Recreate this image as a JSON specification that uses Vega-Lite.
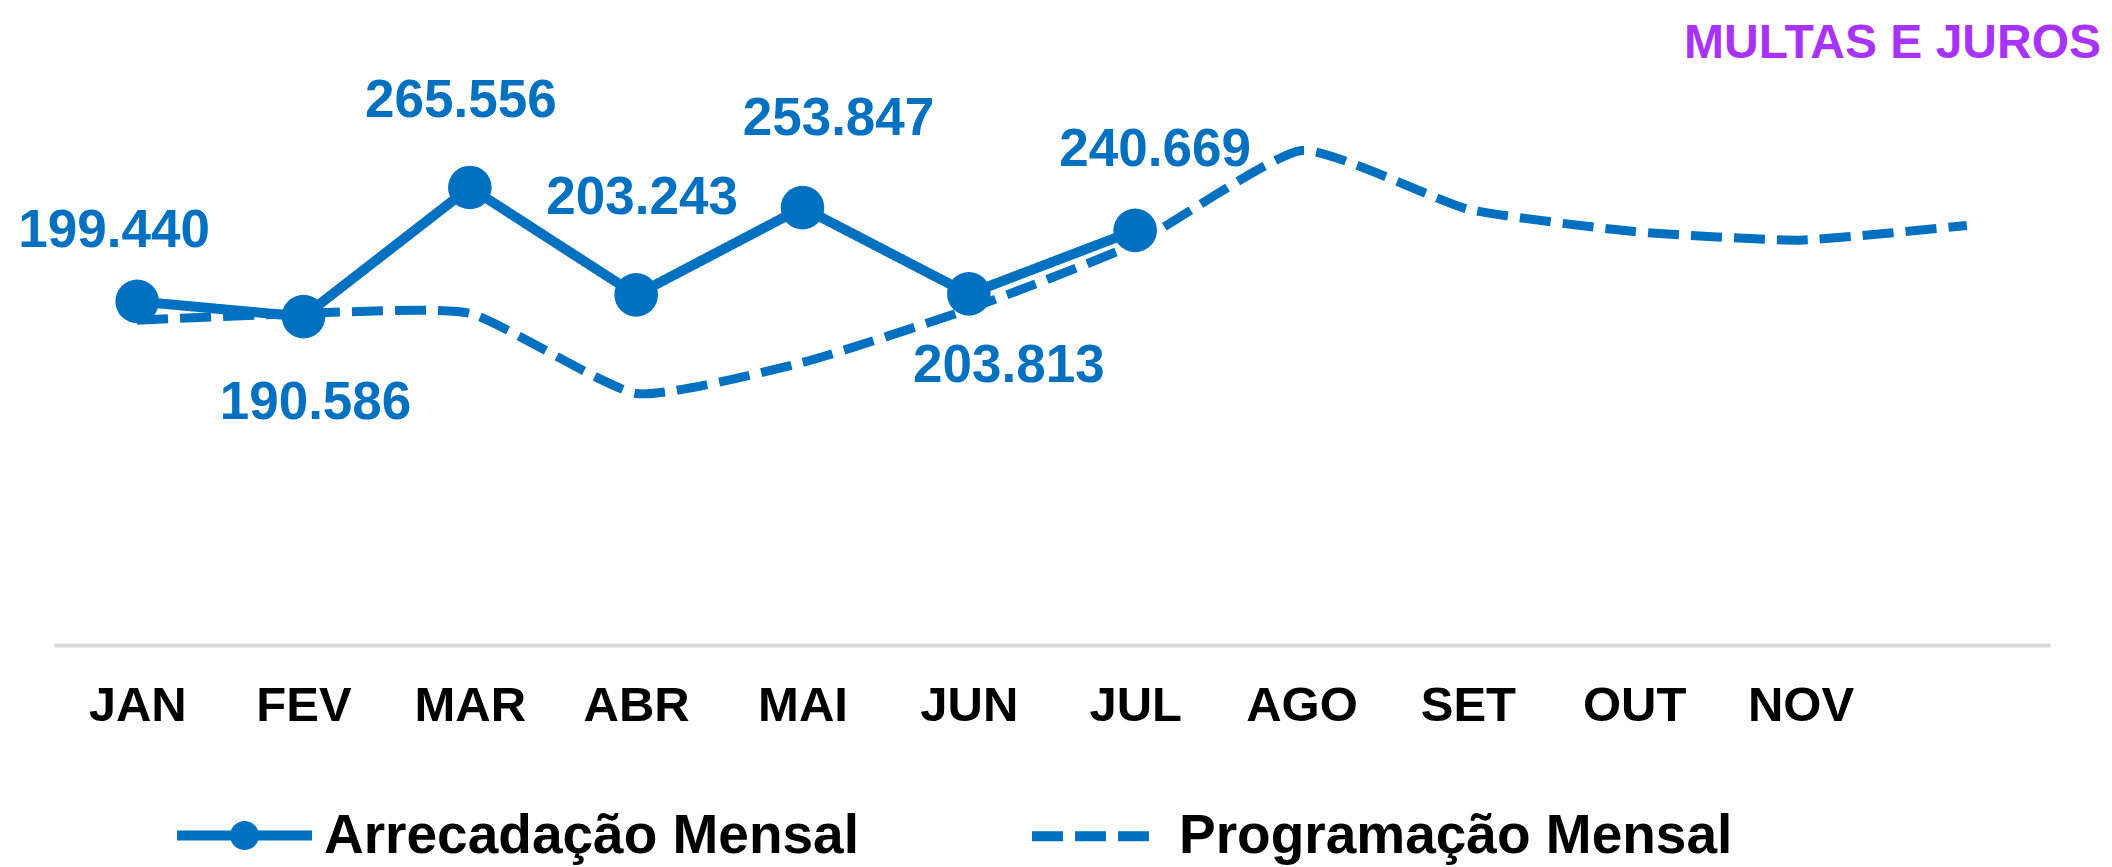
{
  "$schema": "https://vega.github.io/schema/vega-lite/v6.json",
  "width": 1996,
  "height": 603,
  "autosize": {"type": "none"},
  "padding": {"left": 54, "top": 42, "right": 62, "bottom": 222},
  "background": "white",
  "config": {
    "view": {"stroke": null},
    "locale": {"number": {"decimal": ",", "thousands": ".", "grouping": [3], "currency": ["R$", ""]}},
    "font": "Liberation Sans"
  },
  "title": {
    "text": "MULTAS E JUROS",
    "anchor": "end",
    "frame": "group",
    "font": "Liberation Sans",
    "fontSize": 48,
    "fontWeight": "bold",
    "color": "#A833FF",
    "baseline": "alphabetic",
    "offset": 0,
    "dx": 51,
    "dy": 64
  },
  "data": {
    "values": [
      {"mes": "JAN", "arrecadacao": 199440, "programacao": 188500},
      {"mes": "FEV", "arrecadacao": 190586, "programacao": 192500},
      {"mes": "MAR", "arrecadacao": 265556, "programacao": 192500},
      {"mes": "ABR", "arrecadacao": 203243, "programacao": 146000},
      {"mes": "MAI", "arrecadacao": 253847, "programacao": 164000},
      {"mes": "JUN", "arrecadacao": 203813, "programacao": 195000},
      {"mes": "JUL", "arrecadacao": 240669, "programacao": 233000},
      {"mes": "AGO", "arrecadacao": null, "programacao": 287000},
      {"mes": "SET", "arrecadacao": null, "programacao": 253000},
      {"mes": "OUT", "arrecadacao": null, "programacao": 240000},
      {"mes": "NOV", "arrecadacao": null, "programacao": 235000},
      {"mes": "DEZ", "arrecadacao": null, "programacao": 243500}
    ]
  },
  "transform": [
    {"fold": ["arrecadacao", "programacao"], "as": ["chave", "valor"]},
    {"calculate": "datum.chave == 'arrecadacao' ? 'Arrecadação Mensal' : 'Programação Mensal'", "as": "serie"},
    {"filter": "isValid(datum.valor)"}
  ],
  "encoding": {
    "x": {
      "field": "mes",
      "type": "nominal",
      "sort": ["JAN", "FEV", "MAR", "ABR", "MAI", "JUN", "JUL", "AGO", "SET", "OUT", "NOV", "DEZ"],
      "scale": {"type": "point", "padding": 0.5},
      "axis": {
        "title": null,
        "labelAngle": 0,
        "labelExpr": "datum.value == 'DEZ' ? '' : datum.value",
        "ticks": false,
        "tickSize": 0,
        "grid": false,
        "domainColor": "#D9D9D9",
        "domainWidth": 4,
        "labelFont": "Liberation Sans",
        "labelFontSize": 49,
        "labelFontWeight": "bold",
        "labelColor": "#000000",
        "labelBaseline": "middle",
        "labelPadding": 60
      }
    },
    "y": {
      "field": "valor",
      "type": "quantitative",
      "scale": {"domain": [0, 350000], "zero": true, "nice": false},
      "axis": null
    }
  },
  "layer": [
    {
      "transform": [{"filter": "datum.serie == 'Programação Mensal'"}],
      "mark": {"type": "line", "interpolate": "cardinal", "tension": 0.5, "strokeWidth": 9, "color": "#0070C0"},
      "encoding": {
        "strokeDash": {
          "field": "serie",
          "type": "nominal",
          "scale": {"domain": ["Arrecadação Mensal", "Programação Mensal"], "range": [[1, 0], [31, 12]]},
          "legend": {
            "title": null,
            "orient": "none",
            "legendX": 118,
            "legendY": 721,
            "direction": "horizontal",
            "padding": 0,
            "symbolSize": 18225,
            "symbolStrokeWidth": 10,
            "symbolStrokeColor": "#0070C0",
            "symbolFillColor": "transparent",
            "labelFont": "Liberation Sans",
            "labelFontSize": 55,
            "labelFontWeight": "bold",
            "labelColor": "#000000",
            "labelOffset": 7,
            "labelLimit": 0,
            "columnPadding": 153,
            "encode": {
              "symbols": {
                "update": {
                  "shape": {"signal": "datum.value == 'Arrecadação Mensal' ? 'M-1,0L1,0M-0.14,0A0.14,0.14 0 1,0 0.14,0A0.14,0.14 0 1,0 -0.14,0Z' : 'M-1,0L0.74,0'"}
                }
              }
            }
          }
        }
      }
    },
    {
      "transform": [{"filter": "datum.serie == 'Arrecadação Mensal'"}],
      "mark": {"type": "line", "strokeWidth": 10, "color": "#0070C0"},
      "encoding": {
        "strokeDash": {"field": "serie", "type": "nominal"}
      }
    },
    {
      "transform": [{"filter": "datum.serie == 'Arrecadação Mensal'"}],
      "mark": {"type": "circle", "size": 1900, "color": "#0070C0", "opacity": 1},
      "encoding": {}
    },
    {
      "transform": [{"filter": "datum.serie == 'Arrecadação Mensal' && datum.mes == 'JAN'"}],
      "mark": {"type": "text", "font": "Liberation Sans", "fontSize": 53, "fontWeight": "bold", "color": "#0070C0", "baseline": "middle", "align": "center", "dx": -23, "dy": -70},
      "encoding": {"text": {"field": "valor", "type": "quantitative", "format": ",.0f"}}
    },
    {
      "transform": [{"filter": "datum.serie == 'Arrecadação Mensal' && datum.mes == 'FEV'"}],
      "mark": {"type": "text", "font": "Liberation Sans", "fontSize": 53, "fontWeight": "bold", "color": "#0070C0", "baseline": "middle", "align": "center", "dx": 12, "dy": 86},
      "encoding": {"text": {"field": "valor", "type": "quantitative", "format": ",.0f"}}
    },
    {
      "transform": [{"filter": "datum.serie == 'Arrecadação Mensal' && datum.mes == 'MAR'"}],
      "mark": {"type": "text", "font": "Liberation Sans", "fontSize": 53, "fontWeight": "bold", "color": "#0070C0", "baseline": "middle", "align": "center", "dx": -9, "dy": -86},
      "encoding": {"text": {"field": "valor", "type": "quantitative", "format": ",.0f"}}
    },
    {
      "transform": [{"filter": "datum.serie == 'Arrecadação Mensal' && datum.mes == 'ABR'"}],
      "mark": {"type": "text", "font": "Liberation Sans", "fontSize": 53, "fontWeight": "bold", "color": "#0070C0", "baseline": "middle", "align": "center", "dx": 6, "dy": -97},
      "encoding": {"text": {"field": "valor", "type": "quantitative", "format": ",.0f"}}
    },
    {
      "transform": [{"filter": "datum.serie == 'Arrecadação Mensal' && datum.mes == 'MAI'"}],
      "mark": {"type": "text", "font": "Liberation Sans", "fontSize": 53, "fontWeight": "bold", "color": "#0070C0", "baseline": "middle", "align": "center", "dx": 36, "dy": -89},
      "encoding": {"text": {"field": "valor", "type": "quantitative", "format": ",.0f"}}
    },
    {
      "transform": [{"filter": "datum.serie == 'Arrecadação Mensal' && datum.mes == 'JUN'"}],
      "mark": {"type": "text", "font": "Liberation Sans", "fontSize": 53, "fontWeight": "bold", "color": "#0070C0", "baseline": "middle", "align": "center", "dx": 40, "dy": 72},
      "encoding": {"text": {"field": "valor", "type": "quantitative", "format": ",.0f"}}
    },
    {
      "transform": [{"filter": "datum.serie == 'Arrecadação Mensal' && datum.mes == 'JUL'"}],
      "mark": {"type": "text", "font": "Liberation Sans", "fontSize": 53, "fontWeight": "bold", "color": "#0070C0", "baseline": "middle", "align": "center", "dx": 20, "dy": -80},
      "encoding": {"text": {"field": "valor", "type": "quantitative", "format": ",.0f"}}
    }
  ]
}
